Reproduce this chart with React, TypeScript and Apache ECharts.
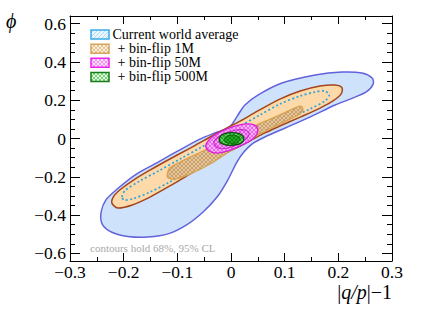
import React, { useEffect, useRef } from 'react';
import * as echarts from 'echarts';

const F = "'Liberation Serif', 'Times New Roman', serif";

// axis ticks
const xRange = [-0.3, 0.3];
const yRange = [-0.64, 0.64];
const yTickLabels = [-0.6, -0.4, -0.2, 0, 0.2, 0.4, 0.6];
const yMinorTicks = [-0.6, -0.55, -0.5, -0.45, -0.4, -0.35, -0.3, -0.25, -0.2, -0.15, -0.1, -0.05, 0,
  0.05, 0.1, 0.15, 0.2, 0.25, 0.3, 0.35, 0.4, 0.45, 0.5, 0.55, 0.6];

const legendLabels = ['Current world average', '+ bin-flip 1M', '+ bin-flip 50M', '+ bin-flip 500M'];

// contour points [ |q/p|-1 , phi ]
const worldAvg95 = [
  [-0.009, 0.050], [0.002, 0.075], [0.013, 0.123], [0.026, 0.175], [0.050, 0.227], [0.095, 0.290],
  [0.157, 0.332], [0.207, 0.347], [0.244, 0.342], [0.263, 0.316], [0.265, 0.285], [0.252, 0.243],
  [0.222, 0.206], [0.194, 0.175], [0.147, 0.112], [0.101, 0.055], [0.063, 0.008], [0.039, -0.029],
  [0.024, -0.071], [0.011, -0.123], [-0.006, -0.217], [-0.026, -0.306], [-0.052, -0.384],
  [-0.082, -0.450], [-0.116, -0.497], [-0.155, -0.515], [-0.192, -0.512], [-0.222, -0.490],
  [-0.240, -0.447], [-0.242, -0.384], [-0.233, -0.321], [-0.212, -0.264], [-0.179, -0.191],
  [-0.142, -0.133], [-0.099, -0.065], [-0.058, -0.003], [-0.030, 0.029],
];
const worldAvg68 = [
  [-0.203, -0.306], [-0.198, -0.274], [-0.170, -0.222], [-0.132, -0.165], [-0.095, -0.107],
  [-0.058, -0.050], [-0.020, 0.008], [0.017, 0.065], [0.054, 0.123], [0.091, 0.180], [0.129, 0.222],
  [0.157, 0.243], [0.175, 0.248], [0.183, 0.227], [0.175, 0.196], [0.147, 0.154], [0.110, 0.107],
  [0.073, 0.060], [0.035, 0.008], [0.002, -0.039], [-0.035, -0.097], [-0.073, -0.159],
  [-0.114, -0.227], [-0.151, -0.280], [-0.184, -0.316], [-0.199, -0.321],
];
const binFlip1M95 = [
  [-0.222, -0.337], [-0.218, -0.300], [-0.205, -0.264], [-0.179, -0.212], [-0.151, -0.165],
  [-0.114, -0.107], [-0.076, -0.050], [-0.039, 0.008], [-0.011, 0.050], [0.017, 0.091],
  [0.050, 0.144], [0.091, 0.206], [0.129, 0.248], [0.166, 0.274], [0.194, 0.279], [0.207, 0.264],
  [0.205, 0.232], [0.190, 0.196], [0.166, 0.159], [0.129, 0.112], [0.091, 0.065], [0.063, 0.029],
  [0.035, -0.013], [0.017, -0.039], [-0.006, -0.071], [-0.039, -0.123], [-0.076, -0.185],
  [-0.114, -0.248], [-0.151, -0.306], [-0.184, -0.347], [-0.211, -0.363],
];
const binFlip1M68 = [
  [-0.119, -0.191], [-0.114, -0.154], [-0.095, -0.123], [-0.048, -0.060], [-0.002, 0.003],
  [0.035, 0.055], [0.082, 0.112], [0.119, 0.159], [0.130, 0.170], [0.134, 0.149], [0.125, 0.123],
  [0.091, 0.076], [0.054, 0.024], [0.007, -0.050], [-0.039, -0.133], [-0.076, -0.185],
  [-0.104, -0.212], [-0.117, -0.206],
];
const binFlip50M95 = [
  [-0.047, -0.039], [-0.041, -0.008], [-0.030, 0.018], [-0.013, 0.044], [0.007, 0.065],
  [0.028, 0.076], [0.043, 0.071], [0.050, 0.050], [0.047, 0.018], [0.035, -0.013], [0.017, -0.039],
  [-0.006, -0.065], [-0.026, -0.076], [-0.041, -0.065],
];
const binFlip50M68 = [
  [-0.032, -0.024], [-0.024, 0.008], [-0.009, 0.029], [0.009, 0.044], [0.026, 0.044],
  [0.034, 0.029], [0.028, -0.003], [0.013, -0.029], [-0.006, -0.050], [-0.024, -0.050],
];
const binFlip500M95 = [
  [-0.022, -0.003], [-0.017, 0.018], [-0.006, 0.029], [0.009, 0.029], [0.020, 0.018],
  [0.024, -0.003], [0.019, -0.024], [0.006, -0.034], [-0.009, -0.034], [-0.019, -0.024],
];
const binFlip500M68 = [
  [-0.013, -0.003], [-0.007, 0.013], [0.004, 0.018], [0.015, 0.008], [0.017, -0.008],
  [0.009, -0.024], [-0.004, -0.024], [-0.011, -0.018],
];

function makePattern(bg: string, fg: string, cross: boolean, size = 4, lw = 1) {
  const c = document.createElement('canvas');
  c.width = size;
  c.height = size;
  const g = c.getContext('2d') as CanvasRenderingContext2D;
  g.fillStyle = bg;
  g.fillRect(0, 0, size, size);
  g.strokeStyle = fg;
  g.lineWidth = lw;
  g.beginPath();
  g.moveTo(-1, size + 1); g.lineTo(size + 1, -1);
  g.moveTo(-1, 1); g.lineTo(1, -1);
  g.moveTo(size - 1, size + 1); g.lineTo(size + 1, size - 1);
  if (cross) {
    g.moveTo(-1, -1); g.lineTo(size + 1, size + 1);
    g.moveTo(-1, size - 1); g.lineTo(1, size + 1);
    g.moveTo(size - 1, -1); g.lineTo(size + 1, 1);
  }
  g.stroke();
  return { image: c, repeat: 'repeat', imageWidth: size, imageHeight: size };
}

const fmt = (v: number) => {
  const r = Math.round(v * 10) / 10;
  if (r === 0) return '0';
  return (r < 0 ? '\u2212' : '') + Math.abs(r).toFixed(1);
};

export default function App() {
  const ref = useRef<HTMLDivElement>(null);
  useEffect(() => {
    if (!ref.current) return;
    const chart = echarts.init(ref.current, undefined, { renderer: 'svg' });

    const pTan = makePattern('#e6c89b', '#c39866', true, 4, 0.9);
    const pMag95 = makePattern('#f8b4f8', '#ea5cea', true, 4, 0.9);
    const pMag68 = makePattern('#f5a0f5', '#e04ae0', true, 4, 0.9);
    const pGreen95 = makePattern('#5fd65f', '#229922', true, 4, 0.9);
    const pGreen68 = makePattern('#22aa22', '#0f800f', true, 4, 0.9);
    const lBlue = makePattern('#eaf5fc', '#a9d6f2', false, 4, 0.9);
    const lTan = makePattern('#fdf0dd', '#e0b880', true, 4, 0.8);
    const lMag = makePattern('#fde0fd', '#f27ef2', true, 4, 0.8);
    const lGreen = makePattern('#e2f7e2', '#5ccc5c', true, 4, 0.8);

    const poly = (name: string, pts: number[][], style: any, z: number) => ({
      type: 'custom',
      name,
      coordinateSystem: 'cartesian2d',
      xAxisIndex: 0,
      yAxisIndex: 0,
      z,
      silent: true,
      clip: false,
      data: [[0, 0]],
      renderItem: (_params: any, api: any) => ({
        type: 'polygon',
        shape: { points: pts.map((p) => api.coord(p)), smooth: 0.3 },
        style,
      }),
    });

    const axisLineStyle = { color: '#000', width: 1 };
    const commonX = { type: 'value', min: xRange[0], max: xRange[1], interval: 0.1, splitLine: { show: false } };
    const commonY = { type: 'value', min: yRange[0], max: yRange[1], splitLine: { show: false } };

    const legendRows = [
      { fill: lBlue, stroke: '#3aaaea' },
      { fill: lTan, stroke: '#d4a458' },
      { fill: lMag, stroke: '#ee22ee' },
      { fill: lGreen, stroke: '#1a7a1a' },
    ];
    const legendGraphics: any[] = [];
    legendLabels.forEach((lab, i) => {
      const cy = 34.6 + i * 14.1;
      legendGraphics.push({
        type: 'rect',
        shape: { x: 91, y: cy - 4.5, width: 18, height: 9 },
        style: { fill: legendRows[i].fill, stroke: legendRows[i].stroke, lineWidth: 1.5 },
      });
      legendGraphics.push({
        type: 'text',
        x: i === 0 ? 112.5 : 117.5,
        y: cy,
        style: { text: lab, fontFamily: F, fontSize: 14, lineHeight: 12, fill: '#000', verticalAlign: 'middle', align: 'left' },
      });
    });

    chart.setOption({
      animation: false,
      grid: { left: 70, right: 44, top: 16, bottom: 54, containLabel: false, outerBoundsMode: 'none' },
      xAxis: [
        {
          ...commonX,
          position: 'bottom',
          axisLine: { show: true, onZero: false, lineStyle: axisLineStyle },
          axisTick: { show: true, inside: true, length: 8, lineStyle: axisLineStyle },
          minorTick: { show: true, splitNumber: 2, length: 4, lineStyle: axisLineStyle },
          axisLabel: { show: true, margin: 2, formatter: fmt, fontFamily: F, fontSize: 17.5, color: '#000' },
        },
        {
          ...commonX,
          position: 'top',
          axisLine: { show: true, onZero: false, lineStyle: axisLineStyle },
          axisTick: { show: true, inside: true, length: 8, lineStyle: axisLineStyle },
          minorTick: { show: true, splitNumber: 2, length: 4, lineStyle: axisLineStyle },
          axisLabel: { show: false },
        },
      ],
      yAxis: [
        {
          ...commonY,
          position: 'left',
          axisLine: { show: true, onZero: false, lineStyle: axisLineStyle },
          axisTick: { show: true, inside: true, length: 10, customValues: yTickLabels, lineStyle: axisLineStyle },
          axisLabel: { show: true, margin: 4, customValues: yTickLabels, formatter: fmt, fontFamily: F, fontSize: 17.5, color: '#000' },
        },
        {
          ...commonY,
          position: 'left',
          axisLine: { show: false, onZero: false },
          axisTick: { show: true, inside: true, length: 5, customValues: yMinorTicks, lineStyle: axisLineStyle },
          axisLabel: { show: false },
        },
        {
          ...commonY,
          position: 'right',
          axisLine: { show: true, onZero: false, lineStyle: axisLineStyle },
          axisTick: { show: true, inside: true, length: 10, customValues: yTickLabels, lineStyle: axisLineStyle },
          axisLabel: { show: false },
        },
        {
          ...commonY,
          position: 'right',
          axisLine: { show: false, onZero: false },
          axisTick: { show: true, inside: true, length: 5, customValues: yMinorTicks, lineStyle: axisLineStyle },
          axisLabel: { show: false },
        },
      ],
      series: [
        poly('Current world average 95%', worldAvg95, { fill: '#cfe2fb', stroke: '#6262dc', lineWidth: 1.5 }, 1),
        poly('+ bin-flip 1M 95%', binFlip1M95, { fill: '#fed9a9', stroke: '#a4441a', lineWidth: 1.5 }, 2),
        poly('Current world average 68%', worldAvg68, { fill: 'none', stroke: '#2ba4de', lineWidth: 1.7, lineDash: [2, 2.4] }, 3),
        poly('+ bin-flip 1M 68%', binFlip1M68, { fill: pTan, stroke: '#d6a250', lineWidth: 1.3 }, 4),
        poly('+ bin-flip 50M 95%', binFlip50M95, { fill: pMag95, stroke: '#dd1cdd', lineWidth: 1.3 }, 5),
        poly('+ bin-flip 50M 68%', binFlip50M68, { fill: pMag68, stroke: '#cc22cc', lineWidth: 1.1 }, 6),
        poly('+ bin-flip 500M 95%', binFlip500M95, { fill: pGreen95, stroke: '#0a4f0a', lineWidth: 1.3 }, 7),
        poly('+ bin-flip 500M 68%', binFlip500M68, { fill: pGreen68, stroke: '#0b6a0b', lineWidth: 1 }, 8),
      ],
      graphic: [
        ...legendGraphics,
        {
          type: 'text',
          x: 90,
          y: 248,
          style: { text: 'contours hold 68%, 95% CL', fontFamily: F, fontSize: 11, fill: '#a8a8a8', verticalAlign: 'middle' },
        },
        {
          type: 'text',
          x: 6,
          y: 21,
          style: { text: '\u03D5', fontFamily: F, fontSize: 20, fontStyle: 'italic', fill: '#000', verticalAlign: 'middle' },
        },
        {
          type: 'text',
          x: 392,
          y: 292,
          style: {
            text: '{a||}{b|q/p}{a||\u22121}',
            fontFamily: F,
            fontSize: 20,
            fill: '#000',
            align: 'right',
            verticalAlign: 'middle',
            rich: {
              a: { fontFamily: F, fontSize: 20, fill: '#000' },
              b: { fontFamily: F, fontSize: 20, fontStyle: 'italic', fill: '#000' },
            },
          },
        },
      ],
    });
    return () => chart.dispose();
  }, []);
  return <div ref={ref} style={{ position: 'fixed', left: 0, top: 0, width: 436, height: 315, background: '#fff' }} />;
}
